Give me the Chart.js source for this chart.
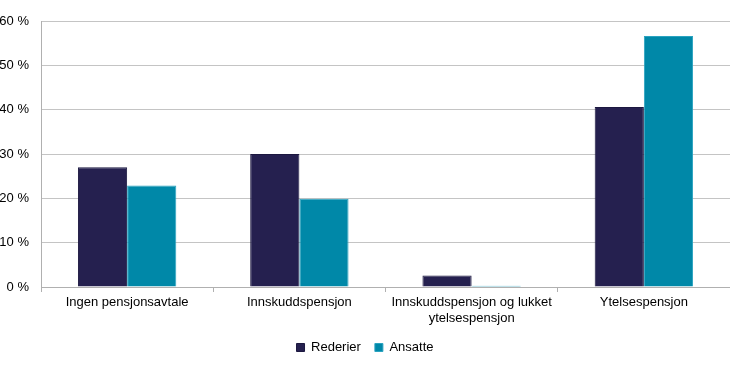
<!DOCTYPE html>
<html>
<head>
<meta charset="utf-8">
<script src="https://cdn.jsdelivr.net/npm/chart.js@4/dist/chart.umd.min.js"></script>
<style>
  html, body { margin: 0; padding: 0; background: #fff; }
  #wrap { width: 730px; height: 370px; }
</style>
</head>
<body>
<div id="wrap"><canvas id="pensjonChart" width="730" height="370"></canvas></div>
<script>
"use strict"

//kategorier og verdier lest fra figuren
const kategorier = [
  "Ingen pensjonsavtale",
  "Innskuddspensjon",
  ["Innskuddspensjon og lukket", "ytelsespensjon"],
  "Ytelsespensjon"
];
const rederier = [27, 30, 2.6, 40.6];
const ansatte = [22.9, 19.9, 0.3, 56.6];
const yTicks = [0, 10, 20, 30, 40, 50, 60];

const chartEl = document.getElementById('pensjonChart');

new Chart(chartEl, {
  type: 'bar',
  data: {
    labels: kategorier,
    datasets: [{
      label: 'Rederier',
      data: rederier,
      backgroundColor: '#25204f',
      borderColor: '#1c1840',
      borderWidth: 1
    }, {
      label: 'Ansatte',
      data: ansatte,
      backgroundColor: '#0088a8',
      borderColor: '#2aa3c0',
      borderWidth: 1
    }]
  },
  options: {
    responsive: false,
    animation: false,
    layout: { padding: { top: 21, right: 0, left: 0, bottom: 6 } },
    datasets: {
      bar: { categoryPercentage: 0.571, barPercentage: 1.0 }
    },
    plugins: {
      tooltip: { enabled: false },
      legend: {
        position: 'bottom',
        labels: {
          font: { family: 'Liberation Sans, Arial', size: 13 },
          color: '#000',
          boxWidth: 8,
          boxHeight: 8,
          padding: 14
        }
      }
    },
    scales: {
      x: {
        grid: {
          display: true,
          offset: true,
          drawOnChartArea: false,
          drawTicks: true,
          tickLength: 5,
          color: '#b0b0b0'
        },
        border: { display: true, color: '#b0b0b0' },
        ticks: {
          font: { family: 'Liberation Sans, Arial', size: 13 },
          color: '#000',
          maxRotation: 0,
          autoSkip: false,
          padding: 3
        },
        afterFit: function (axis) { axis.height = 40; }
      },
      y: {
        min: 0,
        max: 60,
        afterBuildTicks: function (axis) {
          axis.ticks = yTicks.map(v => ({ value: v }));
        },
        grid: {
          color: '#c4c4c4',
          drawTicks: false
        },
        border: { display: true, color: '#b0b0b0' },
        ticks: {
          font: { family: 'Liberation Sans, Arial', size: 13 },
          color: '#000',
          padding: 12,
          callback: function (v) { return v + ' %'; }
        },
        afterFit: function (axis) { axis.width = 41; }
      }
    }
  }
});
</script>
</body>
</html>
